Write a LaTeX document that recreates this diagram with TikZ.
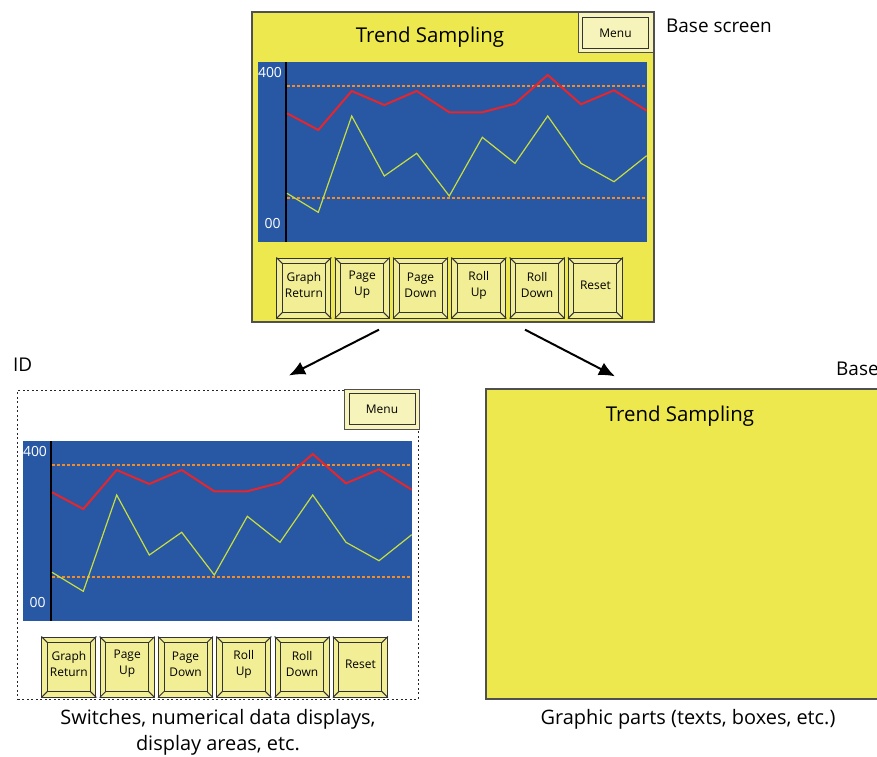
\documentclass[tikz,border=0pt]{standalone}
\usepackage{fontspec}
\setmainfont{Open Sans}
\usetikzlibrary{arrows.meta}

\definecolor{panelyellow}{RGB}{236,232,78}
\definecolor{keyyellow}{RGB}{242,238,150}
\definecolor{menuyellow}{RGB}{246,243,187}
\definecolor{plotblue}{RGB}{40,87,164}
\definecolor{trendred}{RGB}{232,37,42}
\definecolor{trendgreen}{RGB}{200,222,62}
\definecolor{limitorange}{RGB}{242,140,40}
\definecolor{edgegray}{RGB}{80,80,80}

\tikzset{
  screen/.style={draw=edgegray, line width=1.3bp, fill=panelyellow,
    minimum width=402bp, minimum height=310bp, inner sep=0pt},
  idframe/.style={draw=black!85, line width=1bp, dash pattern=on 2bp off 2.5bp,
    minimum width=400bp, minimum height=309bp, inner sep=0pt},
  plotbox/.style={fill=plotblue, minimum width=389bp, minimum height=180bp, inner sep=0pt},
  key/.style={draw=black!80, line width=1bp, fill=keyyellow, minimum width=54bp,
    minimum height=60bp, inner sep=0pt, align=center,
    font=\fontsize{12}{16}\selectfont},
  keytext/.style={inner sep=0pt, align=center, font=\fontsize{12}{16}\selectfont},
  keyline/.style={draw=black!80, line width=1bp},
  menukey/.style={draw=edgegray, line width=1bp, fill=menuyellow, minimum width=75bp,
    minimum height=40bp, inner sep=0pt, font=\fontsize{12}{14}\selectfont},
  axisline/.style={black, line width=2bp},
  axislabel/.style={white, inner sep=0pt, font=\fontsize{14}{16}\selectfont},
  limit/.style={limitorange, line width=1.2bp, dash pattern=on 3bp off 2bp},
  redtrend/.style={trendred, line width=2bp, line join=miter},
  greentrend/.style={trendgreen, line width=1.2bp, line join=miter},
  title/.style={inner sep=0pt, font=\fontsize{20.5}{24}\selectfont},
  note/.style={inner sep=0pt, anchor=west, font=\fontsize{19}{22}\selectfont},
  caption/.style={inner sep=0pt, align=center, font=\fontsize{20}{26}\selectfont},
  flow/.style={-{Latex[length=16bp,width=14bp]}, line width=2bp, black},
}

% inner frame of a bevelled key or menu key
\newcommand{\innerframe}[2]{%
  \draw[keyline] ([shift={(#2,-#2)}]#1.north west) rectangle ([shift={(-#2,#2)}]#1.south east);}

% trend graph and key row, placed at the base screen coordinates
\newcommand{\trendarea}[1]{%
  \node[plotbox] (#1-plot) at (452.5,152) {};
  \draw[axisline] (286,62) -- (286,242);
  \node[axislabel] (#1-ymax) at (270,73) {400};
  \node[axislabel] (#1-ymin) at (272.5,224) {00};
  \draw[limit] (287,86) -- (647,86);
  \draw[limit] (287,198) -- (647,198);
  \draw[redtrend] plot coordinates {(287,113.3) (318.3,130) (351.7,91) (384.3,105)
    (416.7,91) (449.3,112.3) (482.3,112.3) (515,103.7) (547.7,75) (581,104.3)
    (614,90.3) (646.7,110.7)};
  \draw[greentrend] plot coordinates {(287,193.3) (318.3,212.3) (351.7,116) (384.3,176)
    (416.7,153.3) (449.3,196) (482.3,137.3) (515,163.3) (547.7,116) (581,163.3)
    (614,181.7) (646.7,155.7)};
  \foreach \lbl [count=\i] in {Graph\\Return, Page\\Up, Page\\Down, Roll\\Up, Roll\\Down, Reset} {
    \node[key] (#1-k\i) at ({245.6+58.3*\i},288) {};
    \node[keytext] (#1-t\i) at ([yshift=3bp]#1-k\i.center) {\lbl};
    \innerframe{#1-k\i}{6bp}
    \draw[keyline] (#1-k\i.north west) -- ++(6bp,-6bp);
    \draw[keyline] (#1-k\i.north east) -- ++(-6bp,-6bp);
    \draw[keyline] (#1-k\i.south west) -- ++(6bp,6bp);
    \draw[keyline] (#1-k\i.south east) -- ++(-6bp,6bp);
  }
}

\begin{document}
\begin{tikzpicture}[x=1bp,y=-1bp]
\useasboundingbox (0,0) rectangle (877,757);
\clip (0,0) rectangle (877,757);

% Node: base
\node[screen] (base) at (453,167) {};
\node[title] (base-title) at (430,37) {Trend Sampling};
\node[menukey] (base-menu) at (615.5,33) {Menu};
\innerframe{base-menu}{5bp}
\trendarea{base}
\node[note] (base-note) at (666,26) {Base screen};

% Node: ids
\node[idframe] (ids) at (218,544.5) {};
\node[note] (ids-note) at (13,365) {ID};
\begin{scope}[shift={(-235,379)}]
\trendarea{ids}
\end{scope}
\node[menukey] (ids-menu) at (382,409) {Menu};
\innerframe{ids-menu}{5bp}
\node[caption] (ids-caption) at (218,732) {Switches, numerical data displays,\\display areas, etc.};

% Node: parts
\node[screen, minimum width=404bp] (parts) at (688,544) {};
\node[title] (parts-title) at (680,416) {Trend Sampling};
\node[note] (parts-note) at (836,369) {Base};
\node[caption] (parts-caption) at (688,719) {Graphic parts (texts, boxes, etc.)};

% Edge: base -> ids
\coordinate (ids-in) at ([shift={(71bp,14bp)}]ids.north);
\draw[flow] ([shift={(-74bp,-7bp)}]base.south) -- (ids-in);
% Edge: base -> parts
\coordinate (parts-in) at ([shift={(-73bp,12bp)}]parts.north);
\draw[flow] ([shift={(72bp,-7bp)}]base.south) -- (parts-in);
\end{tikzpicture}
\end{document}
